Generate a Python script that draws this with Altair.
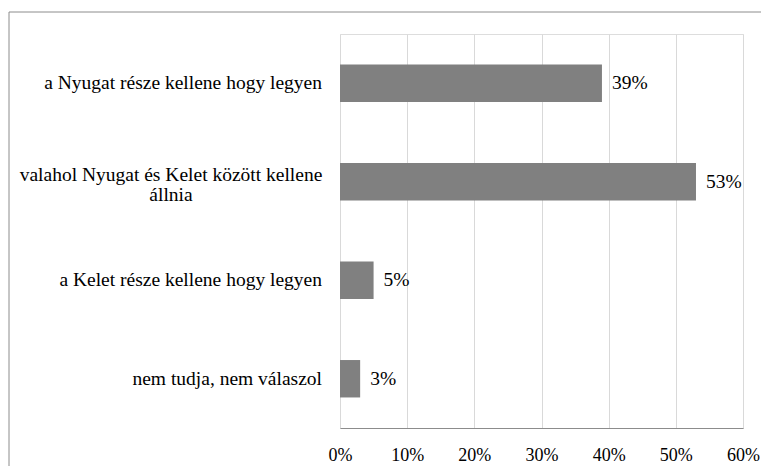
import altair as alt
import pandas as pd

categories = [
    "a Nyugat része kellene hogy legyen",
    "valahol Nyugat és Kelet között kellene\nállnia",
    "a Kelet része kellene hogy legyen",
    "nem tudja, nem válaszol",
]
values = [0.39, 0.53, 0.05, 0.03]
single_line = [True, False, True, True]
x_ticks = [0, 0.1, 0.2, 0.3, 0.4, 0.5, 0.6]

df = pd.DataFrame({"cat": categories, "val": values, "single": single_line})

FONT = "Liberation Serif"
FS = 19.5
FS_TICK = 18

y_enc = alt.Y(
    "cat:N",
    sort=categories,
    scale=alt.Scale(paddingInner=0.62, paddingOuter=0.31),
    axis=None,
)

base = alt.Chart(df)

bars = base.mark_bar(color="#808080").encode(
    x=alt.X(
        "val:Q",
        scale=alt.Scale(domain=[0, 0.6], nice=False),
        axis=alt.Axis(
            values=x_ticks,
            format=".0%",
            title=None,
            ticks=False,
            labelFlush=False,
            labelPadding=18,
            labelFontSize=FS_TICK,
            labelFont=FONT,
            labelColor="#000000",
            domainColor="#8c8c8c",
            gridColor="#d9d9d9",
            grid=True,
        ),
    ),
    y=y_enc,
)

value_labels = base.mark_text(
    align="left", baseline="middle", dx=10, fontSize=FS, font=FONT, color="#000000"
).encode(
    x="val:Q",
    y=y_enc,
    text=alt.Text("val:Q", format=".0%"),
)

cat_labels_right = base.transform_filter("datum.single").mark_text(
    align="right", baseline="middle", fontSize=FS, font=FONT, color="#000000"
).encode(
    x=alt.value(-18),
    y=y_enc,
    text="cat:N",
)

multi = base.transform_filter("!datum.single").transform_calculate(
    line1="split(datum.cat, '\\n')[0]",
    line2="split(datum.cat, '\\n')[1]",
)

cat_line1 = multi.mark_text(
    align="center", baseline="middle", fontSize=FS, font=FONT, color="#000000", dy=-7
).encode(
    x=alt.value(-169),
    y=y_enc,
    text="line1:N",
)

cat_line2 = multi.mark_text(
    align="center", baseline="middle", fontSize=FS, font=FONT, color="#000000", dy=13
).encode(
    x=alt.value(-169),
    y=y_enc,
    text="line2:N",
)

frame = alt.Chart(alt.Data(values=[{"a": 1}])).mark_rect(
    fill=None, stroke="#8c8c8c", strokeWidth=1
).encode(
    x=alt.value(-331),
    x2=alt.value(460),
    y=alt.value(-22),
    y2=alt.value(460),
)

chart = alt.layer(
    frame, bars, value_labels, cat_labels_right, cat_line1, cat_line2
).properties(
    width=403,
    height=394,
    autosize=alt.AutoSizeParams(type="none"),
    padding={"left": 332, "top": 26, "right": 18, "bottom": 38},
).configure_view(
    stroke="#8c8c8c", strokeWidth=1
).configure(background="#ffffff")

chart.save("out.html", embed_options={"renderer": "svg", "actions": False})
